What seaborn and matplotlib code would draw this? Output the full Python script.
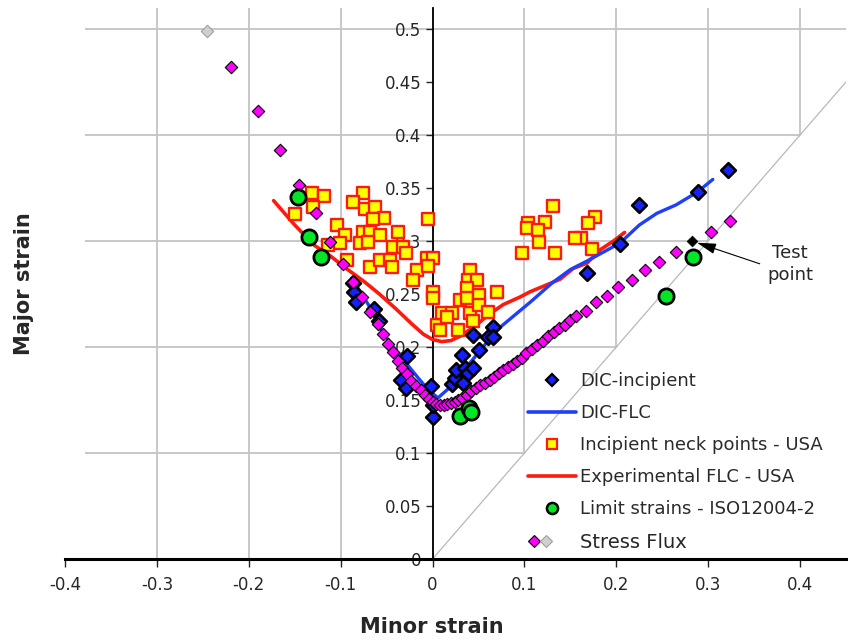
import numpy as np
import pandas as pd
import matplotlib
matplotlib.use("Agg")
import matplotlib.pyplot as plt
from matplotlib.ticker import MultipleLocator, FuncFormatter
from matplotlib.lines import Line2D
from matplotlib.legend_handler import HandlerTuple
import seaborn as sns

sns.set_style("white")
plt.rcParams['font.family'] = ['DejaVu Sans']
plt.rcParams['axes.unicode_minus'] = False

# ---- data ----
# DIC-incipient (blue diamonds)
dic_minor = [-0.087, -0.085, -0.083, -0.064, -0.058, -0.028, -0.034, -0.029, -0.002, 0.000,
             0.001, 0.021, 0.024, 0.026, 0.032, 0.033, 0.035, 0.039, 0.044, 0.044,
             0.050, 0.060, 0.066, 0.066, 0.168, 0.204, 0.225, 0.289, 0.321]
dic_major = [0.260, 0.252, 0.242, 0.236, 0.224, 0.191, 0.169, 0.161, 0.163, 0.134,
             0.145, 0.165, 0.171, 0.178, 0.192, 0.166, 0.180, 0.175, 0.180, 0.211,
             0.197, 0.209, 0.219, 0.209, 0.270, 0.297, 0.334, 0.346, 0.367]

# DIC-FLC (blue line)
dic_flc_minor = [-0.088, -0.070, -0.055, -0.040, -0.030, -0.015, -0.003, 0.006, 0.019, 0.037,
                 0.055, 0.070, 0.088, 0.106, 0.131, 0.150, 0.168, 0.204, 0.225, 0.244,
                 0.265, 0.288, 0.305]
dic_flc_major = [0.265, 0.240, 0.215, 0.196, 0.186, 0.170, 0.158, 0.152, 0.162, 0.181,
                 0.200, 0.216, 0.229, 0.242, 0.261, 0.273, 0.281, 0.298, 0.315, 0.326,
                 0.334, 0.346, 0.358]

# Incipient neck points - USA (yellow squares)
neck_minor = [-0.131, -0.118, -0.150, -0.130, -0.076, -0.087, -0.073, -0.063, -0.053, -0.065,
              -0.005, -0.104, -0.095, -0.076, -0.068, -0.057, -0.038, -0.114, -0.101, -0.079,
              -0.070, -0.043, -0.032, -0.093, -0.068, -0.057, -0.046, -0.044, -0.029, -0.006,
              -0.017, -0.021, 0.001, 0.001, 0.005, 0.010, 0.021, 0.008, 0.041, 0.039,
              0.048, 0.038, 0.030, 0.038, 0.050, 0.070, 0.041, 0.050, 0.060, 0.028,
              0.016, 0.044, 0.001, -0.005, 0.131, 0.104, 0.103, 0.122, 0.115, 0.116,
              0.097, 0.133, 0.177, 0.169, 0.162, 0.155, 0.174]
neck_major = [0.345, 0.342, 0.325, 0.332, 0.345, 0.337, 0.330, 0.332, 0.322, 0.321,
              0.321, 0.315, 0.306, 0.308, 0.308, 0.306, 0.308, 0.296, 0.298, 0.298,
              0.299, 0.294, 0.294, 0.282, 0.275, 0.282, 0.282, 0.275, 0.289, 0.284,
              0.273, 0.263, 0.252, 0.246, 0.221, 0.232, 0.232, 0.216, 0.273, 0.263,
              0.263, 0.256, 0.244, 0.246, 0.249, 0.252, 0.232, 0.240, 0.233, 0.216,
              0.228, 0.224, 0.284, 0.276, 0.333, 0.317, 0.312, 0.318, 0.310, 0.299,
              0.289, 0.289, 0.323, 0.317, 0.303, 0.303, 0.292]

# Experimental FLC - USA (red line)
exp_flc_minor = [-0.173, -0.150, -0.129, -0.110, -0.094, -0.075, -0.058, -0.040, -0.023, -0.010,
                 0.000, 0.010, 0.020, 0.032, 0.048, 0.062, 0.077, 0.095, 0.106, 0.120,
                 0.139, 0.153, 0.168, 0.183, 0.197, 0.209]
exp_flc_major = [0.338, 0.315, 0.296, 0.285, 0.274, 0.262, 0.250, 0.236, 0.222, 0.212,
                 0.207, 0.205, 0.206, 0.211, 0.221, 0.231, 0.240, 0.247, 0.252, 0.257,
                 0.264, 0.274, 0.279, 0.292, 0.300, 0.308]

# Limit strains - ISO12004-2 (green circles)
iso_minor = [-0.146, -0.134, -0.121, 0.030, 0.040, 0.042, 0.254, 0.283]
iso_major = [0.341, 0.304, 0.285, 0.135, 0.142, 0.139, 0.248, 0.285]

# Stress Flux (magenta diamonds)
sf_minor = [-0.219, -0.190, -0.166, -0.145, -0.127, -0.112, -0.098, -0.087, -0.077, -0.068,
            -0.059, -0.054, -0.048, -0.043, -0.038, -0.033, -0.028, -0.023, -0.018, -0.013,
            -0.008, -0.004, 0.000, 0.004, 0.008, 0.012, 0.016, 0.020, 0.024, 0.028,
            0.032, 0.037, 0.042, 0.047, 0.052, 0.057, 0.062, 0.067, 0.072, 0.077,
            0.082, 0.087, 0.092, 0.097, 0.102, 0.108, 0.114, 0.120, 0.126, 0.132,
            0.138, 0.144, 0.150, 0.156, 0.167, 0.178, 0.190, 0.202, 0.217, 0.231,
            0.246, 0.265, 0.303, 0.324]
sf_major = [0.464, 0.423, 0.386, 0.353, 0.326, 0.299, 0.278, 0.261, 0.247, 0.233,
            0.222, 0.212, 0.203, 0.195, 0.187, 0.180, 0.174, 0.168, 0.163, 0.159,
            0.155, 0.151, 0.148, 0.146, 0.145, 0.145, 0.146, 0.147, 0.148, 0.150,
            0.152, 0.155, 0.158, 0.161, 0.164, 0.166, 0.169, 0.172, 0.175, 0.178,
            0.181, 0.184, 0.187, 0.190, 0.194, 0.198, 0.202, 0.206, 0.210, 0.214,
            0.218, 0.221, 0.225, 0.229, 0.234, 0.242, 0.248, 0.257, 0.263, 0.273,
            0.280, 0.290, 0.308, 0.319]
sf_grey_minor = [-0.245]
sf_grey_major = [0.498]

test_minor = [0.282]
test_major = [0.300]

BLUE = '#1420ff'
BLUE_LINE = '#1f3fff'
RED = '#ff1a10'
YELLOW = '#ffff00'
GREEN = '#00e626'
MAGENTA = '#ff00ff'
GREY = '#cfcfcf'


def plot_flc():
    fig = plt.figure(figsize=(8.48, 6.41), dpi=100)
    ax = fig.add_axes([0.0767, 0.128, 0.921, 0.86])
    ax.set_xlim(-0.4, 0.45)
    ax.set_ylim(0, 0.52)
    ax.set_axisbelow(True)

    # grid: only above the 1:1 line, as in the original sheet
    ax.xaxis.set_major_locator(MultipleLocator(0.1))
    ax.yaxis.set_major_locator(MultipleLocator(0.1))
    ax.yaxis.set_minor_locator(MultipleLocator(0.05))
    fmt = FuncFormatter(lambda v, p: '%g' % round(v, 2))
    ax.xaxis.set_major_formatter(fmt)
    ax.yaxis.set_major_formatter(fmt)
    ax.yaxis.set_minor_formatter(fmt)
    ax.grid(True, which='major', color='#c4c4c4', lw=1.3)
    ax.fill_between([0, 0.5], [0, 0], [0, 0.5], color='white', lw=0, zorder=0.8)
    ax.axvspan(-0.4, -0.378, color='white', lw=0, zorder=0.8)
    ax.axline((0, 0), slope=1, color='#b8b8b8', lw=0.9, zorder=1)

    # spines crossing at the origin
    ax.spines['left'].set_position(('data', 0))
    ax.spines['left'].set_linewidth(1.3)
    ax.spines['left'].set_color('black')
    ax.spines['bottom'].set_linewidth(2.2)
    ax.spines['bottom'].set_color('black')
    ax.spines['top'].set_visible(False)
    ax.spines['right'].set_visible(False)
    ax.tick_params(axis='y', which='both', direction='out', length=5, width=1,
                   labelsize=12, labelcolor='#262626', pad=3, left=True)
    ax.tick_params(axis='x', direction='out', length=6, width=1,
                   labelsize=12, labelcolor='#262626', pad=6, bottom=True)

    sns.lineplot(x=exp_flc_minor, y=exp_flc_major, sort=False, estimator=None,
                 color=RED, lw=2.6, ax=ax, zorder=3)
    sns.scatterplot(x=neck_minor, y=neck_major, marker='s', s=72, color=YELLOW,
                    edgecolor=RED, linewidth=1.7, ax=ax, zorder=4, legend=False)
    sns.lineplot(x=dic_flc_minor, y=dic_flc_major, sort=False, estimator=None,
                 color=BLUE_LINE, lw=2.4, ax=ax, zorder=5)
    sns.scatterplot(x=dic_minor, y=dic_major, marker='D', s=56, color=BLUE,
                    edgecolor='black', linewidth=1.9, ax=ax, zorder=6, legend=False)
    sns.scatterplot(x=sf_minor, y=sf_major, marker='D', s=40, color=MAGENTA,
                    edgecolor='black', linewidth=0.8, ax=ax, zorder=7, legend=False)
    sns.scatterplot(x=sf_grey_minor, y=sf_grey_major, marker='D', s=40, color=GREY,
                    edgecolor='#a0a0a0', linewidth=0.8, ax=ax, zorder=7, legend=False)
    sns.scatterplot(x=iso_minor, y=iso_major, marker='o', s=120, color=GREEN,
                    edgecolor='black', linewidth=2, ax=ax, zorder=8, legend=False)
    sns.scatterplot(x=test_minor, y=test_major, marker='D', s=30, color='black',
                    edgecolor='black', linewidth=0.5, ax=ax, zorder=9, legend=False)

    ax.annotate('Test\npoint', xy=(test_minor[0], test_major[0]), xytext=(0.389, 0.278),
                ha='center', va='center', fontsize=13, linespacing=1.3, zorder=10,
                arrowprops=dict(arrowstyle='-|>,head_length=0.9,head_width=0.25',
                                color='black', lw=0.8, shrinkA=3, shrinkB=4,
                                relpos=(0, 0.45)))

    ax.set_xlabel('Minor strain', fontsize=15, fontweight='bold')
    ax.set_ylabel('Major strain', fontsize=15, fontweight='bold')
    ax.xaxis.set_label_coords(0.47, -0.105)
    ax.yaxis.set_label_coords(-0.040, 0.5)

    handles = [
        Line2D([], [], ls='none', marker='D', ms=6.5, mfc=BLUE, mec='black', mew=1.6),
        Line2D([], [], color=BLUE_LINE, lw=2.6),
        Line2D([], [], ls='none', marker='s', ms=7, mfc=YELLOW, mec=RED, mew=1.6),
        Line2D([], [], color=RED, lw=2.6),
        Line2D([], [], ls='none', marker='o', ms=8, mfc=GREEN, mec='black', mew=1.8),
        (Line2D([], [], ls='none', marker='D', ms=6.5, mfc=MAGENTA, mec='black', mew=0.8),
         Line2D([], [], ls='none', marker='D', ms=6.5, mfc=GREY, mec='#a0a0a0', mew=0.8)),
    ]
    labels = ['DIC-incipient', 'DIC-FLC', 'Incipient neck points - USA',
              'Experimental FLC - USA', 'Limit strains - ISO12004-2', 'Stress Flux']
    leg = ax.legend(handles, labels, handler_map={tuple: HandlerTuple(ndivide=4, pad=0)},
                    loc='upper left', bbox_to_anchor=(0.6226, 0.4195),
                    bbox_transform=fig.transFigure, frameon=False, fontsize=13,
                    handlelength=2.66, handletextpad=0.22, labelspacing=0.78,
                    borderpad=0, borderaxespad=0)
    leg.set_zorder(20)
    for t in leg.get_texts()[:-1]:
        t.set_color('#2a2a2a')
    leg.get_texts()[-1].set_fontsize(14)

    fig.savefig('out.png', dpi=100)


if __name__ == "__main__":
    plot_flc()
